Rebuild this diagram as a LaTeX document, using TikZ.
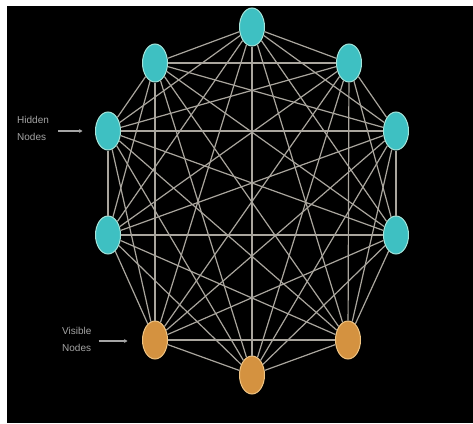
\documentclass[tikz,border=0pt]{standalone}
\usepackage{fontspec}
\setmainfont{Liberation Sans}
\usetikzlibrary{arrows.meta,shapes.geometric}
\definecolor{teal1}{RGB}{62,192,194}
\definecolor{teal2}{RGB}{165,228,218}
\definecolor{ochre1}{RGB}{212,146,64}
\definecolor{ochre2}{RGB}{240,196,130}
\definecolor{wire}{RGB}{170,166,158}
\definecolor{lbltxt}{RGB}{165,165,165}
\begin{document}
\begin{tikzpicture}[x=1pt,y=-1pt,>=Stealth]
\tikzstyle{hid}=[ellipse,draw=teal2,fill=teal1,line width=1pt,minimum width=25pt,minimum height=38pt,inner sep=0pt]
\tikzstyle{vis}=[hid,draw=ochre2,fill=ochre1]
\tikzstyle{lbl}=[anchor=west,inner sep=0pt,align=left,text=lbltxt,font=\fontsize{10}{17}\selectfont]
\tikzstyle{arr}=[-{Stealth[length=3.5pt,width=4pt]},draw=lbltxt,line width=1.2pt]
\fill[white] (0,0) rectangle (473,423);
\fill[black] (7,6) rectangle (473,423);
% hidden nodes
\foreach \i/\x/\y in {1/252/27,2/349/63,3/396/131,4/396/235,8/108/235,9/108/131,10/155/63} \node[hid] (n\i) at (\x,\y) {};
% visible nodes
\foreach \i/\x/\y in {5/348/340,6/252/375,7/155/340} \node[vis] (n\i) at (\x,\y) {};
% every node joined to every other
\foreach \i in {1,...,9} {
  \pgfmathtruncatemacro{\k}{\i+1}
  \foreach \j in {\k,...,10} \draw[wire,line width=1.2pt] (n\i) -- (n\j);
}
\node[lbl] (hl) at (17,128.5) {Hidden\\Nodes};
\node[lbl] (vl) at (62,339) {Visible\\Nodes};
\draw[arr,shorten <=9pt,shorten >=12.5pt] (n9.west -| hl.east) -- (n9.west);
\draw[arr,shorten <=7pt,shorten >=14.5pt] (vl.east |- 0,341) -- (n7.west |- 0,341);
\end{tikzpicture}
\end{document}
